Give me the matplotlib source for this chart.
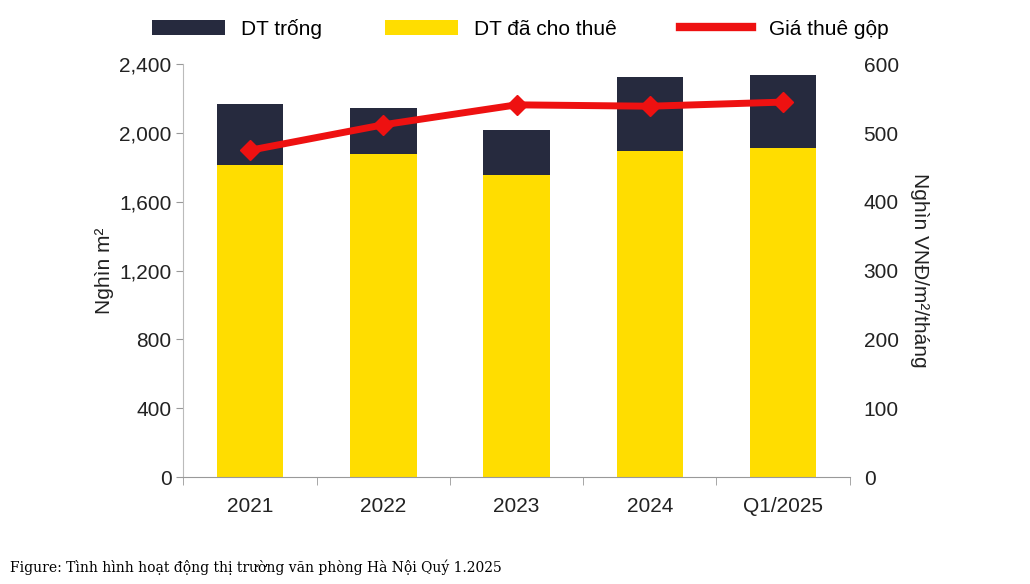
import matplotlib
matplotlib.use("Agg")
import matplotlib.pyplot as plt
from matplotlib.lines import Line2D
import numpy as np

plt.rcParams["font.family"] = "Liberation Sans"

categories = ["2021", "2022", "2023", "2024", "Q1/2025"]
leased = [1813, 1877, 1755, 1894, 1912]
vacant = [354, 267, 261, 430, 424]
rent = [475, 512, 541, 539, 545]

fig = plt.figure(figsize=(10.30, 5.84), dpi=100)
ax = fig.add_axes([0.178, 0.183, 0.647, 0.707])
x = np.arange(len(categories))
ax.bar(x, leased, 0.5, color="#FFDD00", label="DT đã cho thuê", zorder=2)
ax.bar(x, vacant, 0.5, bottom=leased, color="#262A3E", label="DT trống", zorder=2)
ax.set_ylim(0, 2400)
ax.set_xlim(-0.5, len(categories) - 0.5)
ax.set_yticks(range(0, 2401, 400))
ax.set_yticklabels([f"{v:,}" for v in range(0, 2401, 400)])
ax.set_xticks(x)
ax.set_xticklabels(categories)
ax.set_xticks(np.arange(-0.5, len(categories), 1), minor=True)
ax.tick_params(axis="x", which="major", length=0, pad=14, labelsize=15, colors="#222222")
ax.tick_params(axis="x", which="minor", length=6, color="#999999")
ax.tick_params(axis="y", labelsize=15, length=5, color="#999999", colors="#222222")
for s in ["top", "right"]:
    ax.spines[s].set_visible(False)
ax.spines["left"].set_color("#bbbbbb")
ax.spines["bottom"].set_color("#999999")
ax.set_ylabel("Nghìn m²", fontsize=15, color="#222222")

ax2 = ax.twinx()
ax2.plot(x, rent, color="#EE1111", lw=5, marker="D", ms=10, zorder=3)
ax2.set_ylim(0, 600)
ax2.set_yticks(range(0, 601, 100))
ax2.tick_params(axis="y", labelsize=15, length=0, pad=10, colors="#222222")
for s in ["top", "left", "bottom", "right"]:
    ax2.spines[s].set_visible(False)
ax2.set_ylabel("Nghìn VNĐ/m²/tháng", fontsize=15, rotation=270, labelpad=22, color="#222222")

h1, l1 = ax.get_legend_handles_labels()
line_h = Line2D([], [], color="#EE1111", lw=6)
fig.legend([h1[1], h1[0], line_h], [l1[1], l1[0], "Giá thuê gộp"], loc="upper center",
           bbox_to_anchor=(0.505, 1.0), ncol=3, frameon=False, fontsize=15,
           handlelength=3.5, columnspacing=3)
fig.text(0.01, 0.02, "Figure: Tình hình hoạt động thị trường văn phòng Hà Nội Quý 1.2025",
         fontsize=10, family="DejaVu Serif")
fig.savefig("out.png", dpi=100)
